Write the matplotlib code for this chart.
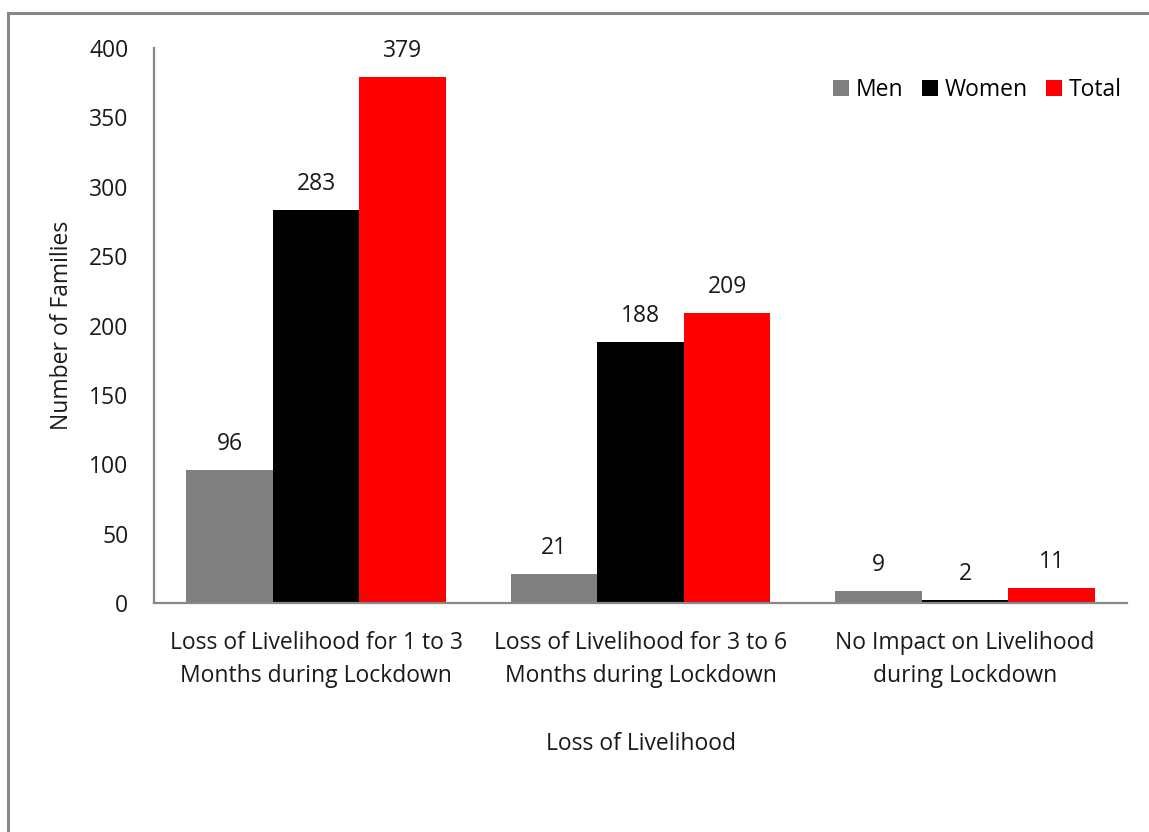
import matplotlib
matplotlib.use("Agg")
import matplotlib.pyplot as plt
import numpy as np
from matplotlib.patches import Rectangle

categories = [
    "Loss of Livelihood for 1 to 3\nMonths during Lockdown",
    "Loss of Livelihood for 3 to 6\nMonths during Lockdown",
    "No Impact on Livelihood\nduring Lockdown",
]
series_names = ["Men", "Women", "Total"]
men = [96, 21, 9]
women = [283, 188, 2]
total = [379, 209, 11]
colors = ["#808080", "#000000", "#ff0000"]
y_ticks = [0, 50, 100, 150, 200, 250, 300, 350, 400]

plt.rcParams["font.family"] = ["Open Sans", "DejaVu Sans"]
FS = 16.5

fig = plt.figure(figsize=(11.49, 8.32), dpi=100)
ax = fig.add_axes([0.134, 0.2752, 0.847, 0.6671])

x = np.arange(len(categories))
width = 0.8 / 3
for i, (name, vals) in enumerate(zip(series_names, [men, women, total])):
    pos = x - 0.4 + width * (i + 0.5)
    bars = ax.bar(pos, vals, width, color=colors[i], label=name)
    for b, v in zip(bars, vals):
        ax.annotate(str(v), (b.get_x() + b.get_width() / 2, v),
                    xytext=(0, 10), textcoords="offset points",
                    ha="center", va="bottom", fontsize=FS, color="#1a1a1a")

ax.set_xlim(-0.5, len(categories) - 0.5)
ax.set_ylim(0, 400)
ax.set_yticks(y_ticks)
ax.set_xticks(x)
ax.set_xticklabels(categories, fontsize=FS, color="#1a1a1a", linespacing=1.5)
ax.tick_params(axis="both", length=0, labelsize=FS, colors="#1a1a1a")
ax.tick_params(axis="y", pad=18.5)
ax.tick_params(axis="x", pad=20)
for s in ["top", "right"]:
    ax.spines[s].set_visible(False)
for s in ["left", "bottom"]:
    ax.spines[s].set_color("#888888")
    ax.spines[s].set_linewidth(1.6)

ax.set_xlabel("Loss of Livelihood", fontsize=FS, color="#1a1a1a", labelpad=32)
ax.set_ylabel("Number of Families", fontsize=FS, color="#1a1a1a", labelpad=11)

ax.legend(loc="upper right", bbox_to_anchor=(1.004, 0.962), ncol=3, frameon=False,
          fontsize=FS, handlelength=0.7, handleheight=0.7, handletextpad=0.3,
          columnspacing=0.8, borderaxespad=0)

# outer chart frame
fig.patches.append(Rectangle((8 / 1149, -0.2), 1.2, 1 - 13 / 832 + 0.2,
                             transform=fig.transFigure, fill=False,
                             edgecolor="#888888", linewidth=2.2))

fig.savefig("out.png", dpi=100)
